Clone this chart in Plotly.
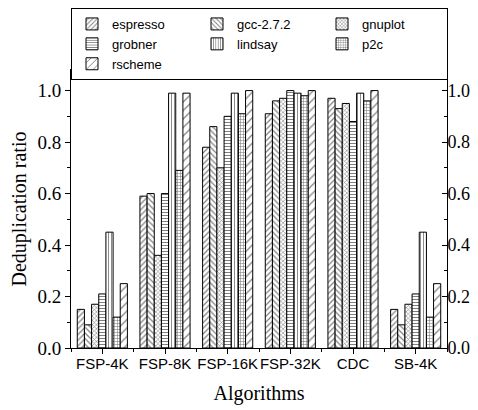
import plotly.graph_objects as go

categories = ["FSP-4K", "FSP-8K", "FSP-16K", "FSP-32K", "CDC", "SB-4K"]
series_names = ["espresso", "gcc-2.7.2", "gnuplot", "grobner", "lindsay", "p2c", "rscheme"]
espresso = [0.15, 0.59, 0.78, 0.91, 0.97, 0.15]
gcc = [0.09, 0.60, 0.86, 0.96, 0.93, 0.09]
gnuplot = [0.17, 0.36, 0.70, 0.97, 0.95, 0.17]
grobner = [0.21, 0.60, 0.90, 1.00, 0.88, 0.21]
lindsay = [0.45, 0.99, 0.99, 0.99, 0.99, 0.45]
p2c = [0.12, 0.69, 0.91, 0.98, 0.96, 0.12]
rscheme = [0.25, 0.99, 1.00, 1.00, 1.00, 0.25]
series_values = [espresso, gcc, gnuplot, grobner, lindsay, p2c, rscheme]
y_ticks = [0.0, 0.2, 0.4, 0.6, 0.8, 1.0]
y_tick_labels = ["0.0", "0.2", "0.4", "0.6", "0.8", "1.0"]

patterns = [
    dict(shape="/", size=4, solidity=0.3),
    dict(shape="\\", size=4, solidity=0.3),
    dict(shape="x", size=3, solidity=0.35),
    dict(shape="-", size=3, solidity=0.35),
    dict(shape="|", size=3, solidity=0.3),
    dict(shape="+", size=3, solidity=0.35),
    dict(shape="/", size=6, solidity=0.2),
]

x_idx = list(range(len(categories)))
fig = go.Figure()
for name, vals, pat in zip(series_names, series_values, patterns):
    fig.add_trace(go.Bar(
        x=x_idx, y=vals, name=name,
        marker=dict(color="white", line=dict(color="black", width=1),
                    pattern=dict(fgcolor="black", bgcolor="white", fillmode="overlay", **pat)),
    ))

# invisible helper so the mirrored (top/right) axes get drawn
fig.add_trace(go.Scatter(x=x_idx, y=espresso, xaxis="x2", yaxis="y2", mode="markers",
                         marker=dict(opacity=0), showlegend=False, hoverinfo="skip"))

serif = "Liberation Serif, Times New Roman, serif"
sans = "Liberation Sans, Arial, sans-serif"
yr = [0, 1.08]
xr = [-0.5, 5.5]
minor_x = [i + 0.5 for i in range(-1, len(categories))]

W, H = 470, 402
fig.update_layout(
    width=W, height=H,
    margin=dict(l=63, r=31, t=62, b=62, autoexpand=False),
    plot_bgcolor="white", paper_bgcolor="white",
    barmode="group", bargap=0.2, bargroupgap=0,
    showlegend=True,
    legend=dict(orientation="h", xref="paper", yref="container",
                x=0.0, y=1.0, xanchor="left", yanchor="top",
                entrywidth=80, bordercolor="black", borderwidth=1,
                font=dict(family=sans, size=13, color="black"),
                tracegroupgap=0, itemwidth=30),
    xaxis=dict(range=xr, tickmode="array", tickvals=x_idx, ticktext=categories, tickangle=0,
               ticks="outside", ticklen=5, tickcolor="black", showline=True,
               linecolor="black", linewidth=1, showgrid=False, zeroline=False,
               tickfont=dict(family=sans, size=15, color="black"), ticklabelstandoff=-3,
               minor=dict(tickmode="array", tickvals=minor_x, ticks="outside", ticklen=3, tickcolor="black"),
               title=dict(text="Algorithms", font=dict(family=serif, size=20, color="black"), standoff=14)),
    xaxis2=dict(range=xr, overlaying="x", side="top", tickmode="array", tickvals=x_idx,
                showticklabels=False, ticks="inside", ticklen=5, tickcolor="black",
                showline=True, linecolor="black", linewidth=1, showgrid=False, zeroline=False,
                minor=dict(tickmode="array", tickvals=minor_x, ticks="inside", ticklen=3, tickcolor="black")),
    yaxis=dict(range=yr, tickmode="array", tickvals=y_ticks, ticktext=y_tick_labels,
               ticks="outside", ticklen=5, tickcolor="black", showline=True,
               linecolor="black", linewidth=1, showgrid=False, zeroline=False,
               tickfont=dict(family=serif, size=19, color="black"),
               minor=dict(dtick=0.1, tick0=0, ticks="outside", ticklen=3, tickcolor="black"),
               title=dict(text="Deduplication ratio", font=dict(family=serif, size=20, color="black"), standoff=13)),
    yaxis2=dict(range=yr, overlaying="y", side="right", tickmode="array", tickvals=y_ticks,
                ticktext=y_tick_labels, ticks="inside", ticklen=5, tickcolor="black",
                showline=True, linecolor="black", linewidth=1, showgrid=False, zeroline=False,
                tickfont=dict(family=serif, size=18, color="black"), ticklabelstandoff=-4,
                minor=dict(dtick=0.1, tick0=0, ticks="inside", ticklen=3, tickcolor="black")),
)

fig.write_html("out.html")
